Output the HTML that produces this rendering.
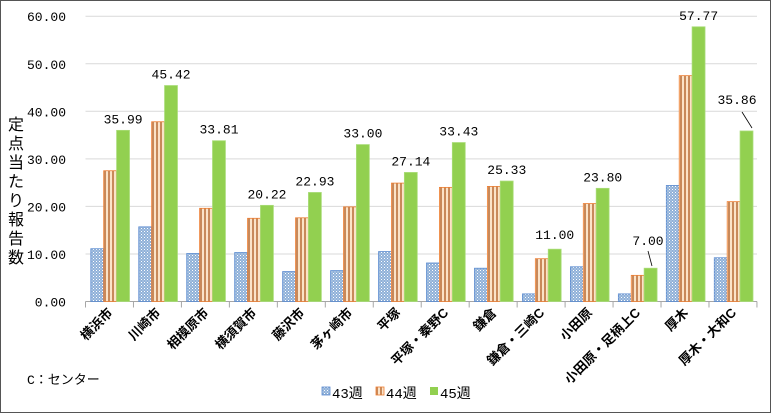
<!DOCTYPE html>
<html><head><meta charset="utf-8"><style>
html,body{margin:0;padding:0;background:#fff;}
svg{display:block;font-family:"Liberation Mono","Noto Sans CJK JP",monospace;}
</style></head><body>
<svg id="c" width="771" height="413" xmlns="http://www.w3.org/2000/svg">
<defs>
<pattern id="dots" width="3" height="3" patternUnits="userSpaceOnUse"><rect width="3" height="3" fill="#8fb0d8"/><rect width="1" height="1" fill="#fff"/><rect x="1.5" y="1.5" width="1" height="1" fill="#dce8f4"/></pattern>
<pattern id="vstr" width="4" height="4" patternUnits="userSpaceOnUse"><rect width="4" height="4" fill="#fbe3c8"/><rect x="0" width="2" height="4" fill="#c8895a"/></pattern>
</defs>
<rect x="0.5" y="0.5" width="770" height="412" fill="#fff" stroke="#555"/>
<g id="grid"></g>
<g id="bars"></g>
<g id="labels" font-size="13" fill="#000"></g>
<g font-size="16" font-family="Liberation Sans,Noto Sans CJK JP,sans-serif">
<text x="16" y="130" text-anchor="middle">定</text>
<text x="16" y="149" text-anchor="middle">点</text>
<text x="16" y="168" text-anchor="middle">当</text>
<text x="16" y="187" text-anchor="middle">た</text>
<text x="16" y="206" text-anchor="middle">り</text>
<text x="16" y="225" text-anchor="middle">報</text>
<text x="16" y="244" text-anchor="middle">告</text>
<text x="16" y="263" text-anchor="middle">数</text>
</g>
<text x="27" y="384" font-size="13">C：センター</text>
<g font-size="14">
<rect x="322" y="387" width="8" height="8" fill="url(#dots)" stroke="#5b8bd0" stroke-width="0.8"/><text x="332" y="398">43週</text>
<rect x="376" y="387" width="8" height="8" fill="url(#vstr)" stroke="#ed7d31" stroke-width="0.8"/><text x="386" y="398">44週</text>
<rect x="430" y="387" width="8" height="8" fill="#92d050"/><text x="440" y="398">45週</text>
</g>
<line x1="742" y1="112" x2="752" y2="128" stroke="#000" stroke-width="0.8"/>
<line x1="648" y1="251" x2="652" y2="266" stroke="#000" stroke-width="0.8"/>
</svg>
<script>
const ns="http://www.w3.org/2000/svg";
function el(t,a,p,txt){const e=document.createElementNS(ns,t);for(const k in a)e.setAttribute(k,a[k]);if(txt!==undefined)e.textContent=txt;document.getElementById(p).appendChild(e);return e;}
const y0=301.5,k=4.755,x0=85.5,cw=47.96;
for(let i=0;i<=6;i++){const y=y0-i*10*k;
 if(i>0)el('line',{x1:x0,x2:757,y1:y,y2:y,stroke:'#d9d9d9'},'grid');
 el('text',{x:66,y:y+5,'text-anchor':'end','font-size':13},'labels',(i*10).toFixed(2));}
el('line',{x1:x0,x2:757,y1:y0,y2:y0,stroke:'#a6a6a6'},'grid');
for(let i=0;i<=14;i++)el('line',{x1:x0+i*cw,x2:x0+i*cw,y1:y0,y2:y0+6,stroke:'#a6a6a6'},'grid');
const names=["横浜市","川崎市","相模原市","横須賀市","藤沢市","茅ヶ崎市","平塚","平塚・秦野C","鎌倉","鎌倉・三崎C","小田原","小田原・足柄上C","厚木","厚木・大和C"];
const a=[11.1,15.7,10.1,10.3,6.3,6.5,10.5,8.1,7.0,1.6,7.3,1.6,24.4,9.2];
const b=[27.5,37.8,19.6,17.5,17.6,19.9,24.9,24.0,24.2,9.0,20.6,5.5,47.5,21.0];
const c=[35.99,45.42,33.81,20.22,22.93,33.00,27.14,33.43,25.33,11.00,23.80,7.00,57.77,35.86];
for(let i=0;i<14;i++){const cx=x0+i*cw,bx=cx+5.3;
 [[a[i],'url(#dots)','#5b8bd0'],[b[i],'url(#vstr)','#ed7d31'],[c[i],'#92d050','#a9dc78']].forEach((d,j)=>{
  const h=d[0]*k;el('rect',{x:bx+j*12.9,y:y0-h,width:12.9,height:h,fill:d[1],stroke:d[2],'stroke-width':0.8},'bars');});
 const gx=bx+2*12.9+6.5;let ly=y0-c[i]*k-7,lx=gx;
 if(i==13){lx=737;ly=104;} if(i==11){lx=648;ly=245;} if(i==9){ly=y0-c[i]*k-10;}
 el('text',{x:lx,y:ly,'text-anchor':'middle','font-size':13},'labels',c[i].toFixed(2));
 const tx=cx+cw/2+4,ty=y0+12;
 el('text',{x:tx,y:ty,'text-anchor':'end','font-size':13,'font-weight':'bold','font-family':'Liberation Sans,Noto Sans CJK JP,sans-serif',transform:`rotate(-45 ${tx} ${ty})`},'labels',names[i]);
}
</script>
</body></html>
